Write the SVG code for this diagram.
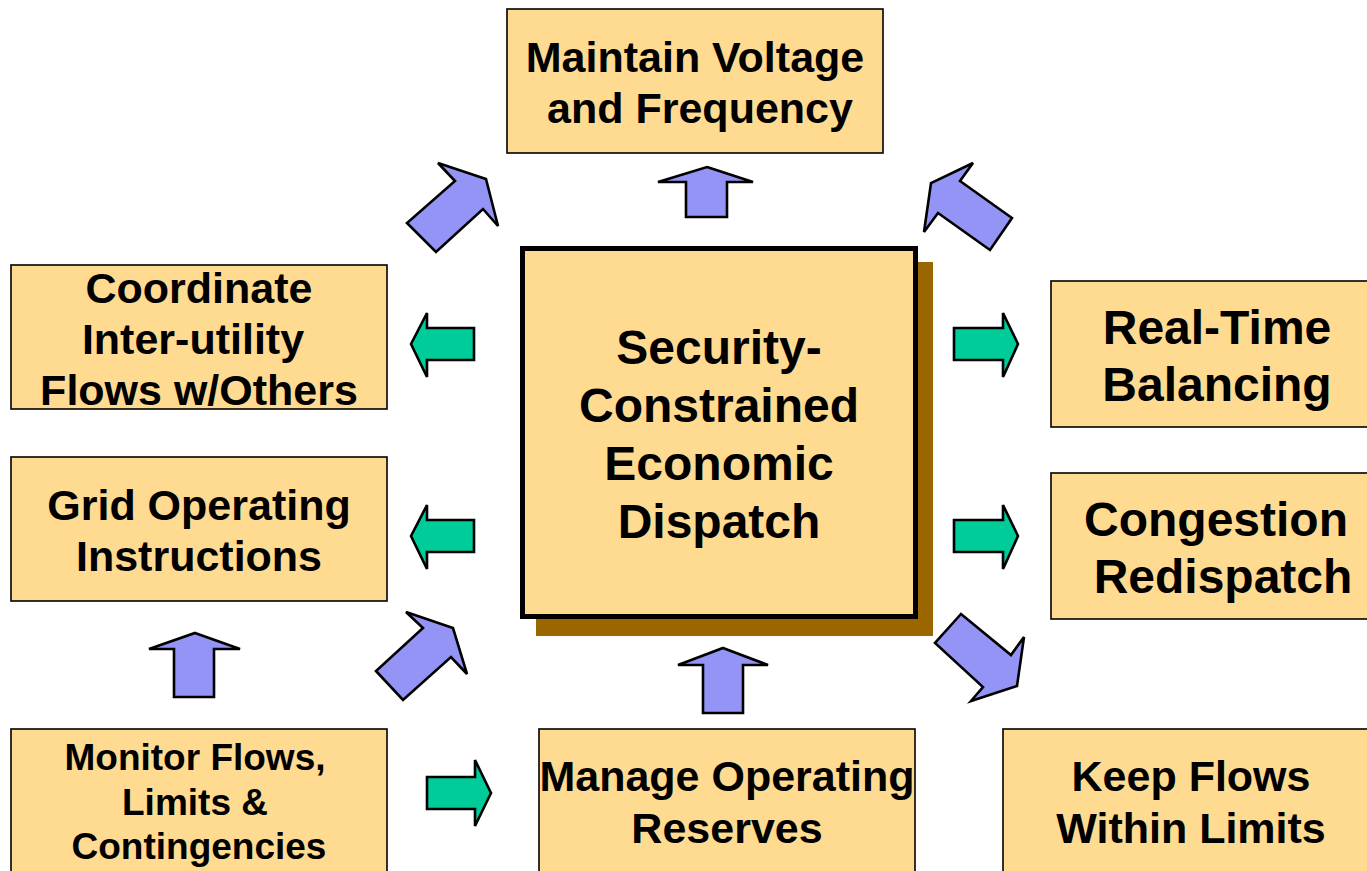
<svg xmlns="http://www.w3.org/2000/svg" width="1367" height="871" viewBox="0 0 1367 871">
  <style>
    .box { fill: #FFDA91; stroke: #000; stroke-width: 1.6; }
    .core { fill: #FFDA91; stroke: #000; stroke-width: 5; }
    .shadow { fill: #996600; }
    .lbl { font-family: "Liberation Sans", Arial, sans-serif; font-weight: bold; fill: #000; text-anchor: middle; }
    .up { fill: #9494F7; stroke: #000; stroke-width: 2.6; stroke-linejoin: miter; }
    .side { fill: #00CC99; stroke: #000; stroke-width: 2.6; stroke-linejoin: miter; }
  </style>

  <rect width="1367" height="871" fill="#FFFFFF"/>

  <!-- central dispatch block with drop shadow -->
  <g id="node-sced">
    <rect class="shadow" x="536" y="262" width="397" height="374"/>
    <rect class="core" x="522.5" y="248.5" width="393" height="368"/>
    <text class="lbl" font-size="48" x="719" y="364">Security-</text>
    <text class="lbl" font-size="48" x="719" y="422">Constrained</text>
    <text class="lbl" font-size="48" x="719" y="480">Economic</text>
    <text class="lbl" font-size="48" x="719" y="538">Dispatch</text>
  </g>

  <g id="node-voltage">
    <rect class="box" x="507" y="9" width="376" height="144"/>
    <text class="lbl" font-size="43" x="695" y="72">Maintain Voltage</text>
    <text class="lbl" font-size="43" x="700" y="123">and Frequency</text>
  </g>

  <g id="node-interutility">
    <rect class="box" x="11" y="265" width="376" height="144"/>
    <text class="lbl" font-size="43" x="199" y="303">Coordinate</text>
    <text class="lbl" font-size="43" x="193" y="354">Inter-utility</text>
    <text class="lbl" font-size="43" x="199" y="405">Flows w/Others</text>
  </g>

  <g id="node-grid-instructions">
    <rect class="box" x="11" y="457" width="376" height="144"/>
    <text class="lbl" font-size="43" x="199" y="520">Grid Operating</text>
    <text class="lbl" font-size="43" x="199" y="571">Instructions</text>
  </g>

  <g id="node-monitor">
    <rect class="box" x="11" y="729" width="376" height="150"/>
    <text class="lbl" font-size="37" x="195" y="770">Monitor Flows,</text>
    <text class="lbl" font-size="37" x="195" y="815">Limits &amp;</text>
    <text class="lbl" font-size="37" x="199" y="859">Contingencies</text>
  </g>

  <g id="node-reserves">
    <rect class="box" x="539" y="729" width="376" height="150"/>
    <text class="lbl" font-size="43" x="727" y="791">Manage Operating</text>
    <text class="lbl" font-size="43" x="727" y="843">Reserves</text>
  </g>

  <g id="node-limits">
    <rect class="box" x="1003" y="729" width="376" height="150"/>
    <text class="lbl" font-size="43" x="1191" y="791">Keep Flows</text>
    <text class="lbl" font-size="43" x="1191" y="843">Within Limits</text>
  </g>

  <g id="node-balancing">
    <rect class="box" x="1051" y="281" width="340" height="146"/>
    <text class="lbl" font-size="48" x="1217" y="344">Real-Time</text>
    <text class="lbl" font-size="48" x="1217" y="401">Balancing</text>
  </g>

  <g id="node-congestion">
    <rect class="box" x="1051" y="473" width="340" height="146"/>
    <text class="lbl" font-size="48" x="1216" y="536">Congestion</text>
    <text class="lbl" font-size="48" x="1223" y="593">Redispatch</text>
  </g>

  <!-- block arrows between the functions -->
  <g id="connectors">
    <!-- up arrows -->
    <polygon class="up" points="707,167 753,182 727,182 727,217 686,217 686,182 658,182"/>
    <polygon class="up" points="195,633 240,649 214,649 214,697 174,697 174,649 149,649"/>
    <polygon class="up" points="723,648 768,665 743,665 743,713 703,713 703,665 678,665"/>
    <!-- diagonal arrows -->
    <polygon class="up" points="407,223 436,252 483,209 498,226 486,179 438,163 455,181"/>
    <polygon class="up" points="973,163 960,181 1012,218 990,250 938,213 924,232 931,183"/>
    <polygon class="up" points="376,671 403,700 451,657 467,674 453,628 406,612 423,628"/>
    <polygon class="up" points="961,614 935,643 983,687 971,701 1017,686 1024,637 1011,655"/>
    <!-- left arrows -->
    <polygon class="side" points="411,344 427,313 427,328 474,328 474,360 427,360 427,377"/>
    <polygon class="side" points="411,536 427,505 427,520 474,520 474,552 427,552 427,569"/>
    <!-- right arrows -->
    <polygon class="side" points="1018,344 1003,313 1003,328 954,328 954,360 1003,360 1003,377"/>
    <polygon class="side" points="1018,536 1003,505 1003,520 954,520 954,552 1003,552 1003,569"/>
    <polygon class="side" points="491,793 475,760 475,777 427,777 427,809 475,809 475,826"/>
  </g>
</svg>
